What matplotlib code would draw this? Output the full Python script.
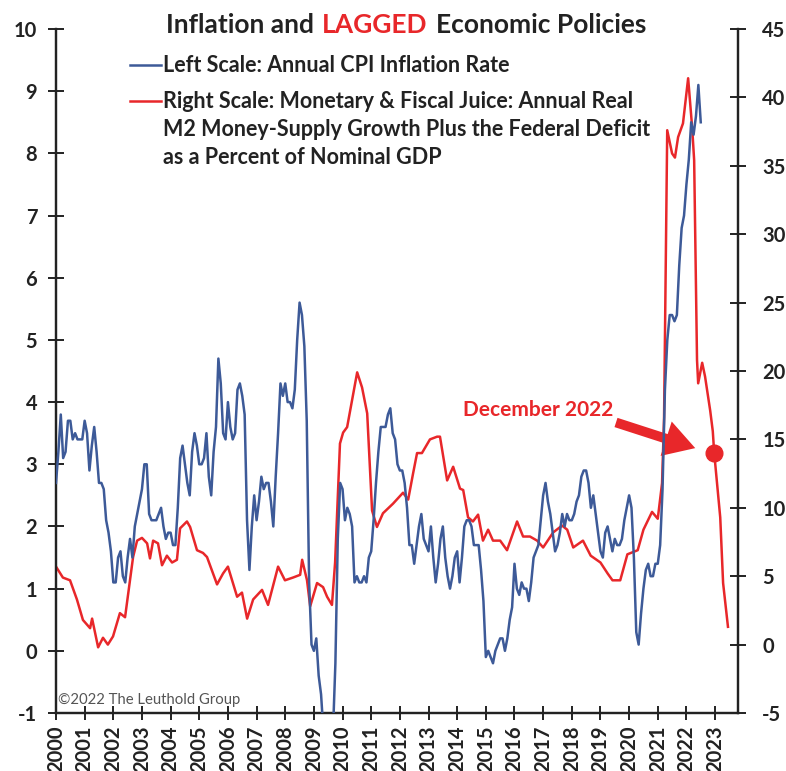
import numpy as np
import matplotlib
matplotlib.use('Agg')
import matplotlib.pyplot as plt
from matplotlib.lines import Line2D
from matplotlib.offsetbox import TextArea, HPacker, AnchoredOffsetbox

plt.rcParams['font.family'] = ['Lato', 'DejaVu Sans']
plt.rcParams['font.weight'] = 'bold'

BLUE = '#3d5a98'
RED = '#e8272a'

# annual CPI inflation, monthly from Jan 2000 to Jul 2022 (left scale)
cpi = [
    2.7, 3.2, 3.8, 3.1, 3.2, 3.7, 3.7, 3.4, 3.5, 3.4, 3.4, 3.4,
    3.7, 3.5, 2.9, 3.3, 3.6, 3.2, 2.7, 2.7, 2.6, 2.1, 1.9, 1.6,
    1.1, 1.1, 1.5, 1.6, 1.2, 1.1, 1.5, 1.8, 1.5, 2.0, 2.2, 2.4,
    2.6, 3.0, 3.0, 2.2, 2.1, 2.1, 2.1, 2.2, 2.3, 2.0, 1.8, 1.9,
    1.9, 1.7, 1.7, 2.3, 3.1, 3.3, 3.0, 2.7, 2.5, 3.2, 3.5, 3.3,
    3.0, 3.0, 3.1, 3.5, 2.8, 2.5, 3.2, 3.6, 4.7, 4.3, 3.5, 3.4,
    4.0, 3.6, 3.4, 3.5, 4.2, 4.3, 4.1, 3.8, 2.1, 1.3, 2.0, 2.5,
    2.1, 2.4, 2.8, 2.6, 2.7, 2.7, 2.4, 2.0, 2.8, 3.5, 4.3, 4.1,
    4.3, 4.0, 4.0, 3.9, 4.2, 5.0, 5.6, 5.4, 4.9, 3.7, 1.1, 0.1,
    0.0, 0.2, -0.4, -0.7, -1.3, -1.4, -2.1, -1.5, -1.3, -0.2, 1.8, 2.7,
    2.6, 2.1, 2.3, 2.2, 2.0, 1.1, 1.2, 1.1, 1.1, 1.2, 1.1, 1.5,
    1.6, 2.1, 2.7, 3.2, 3.6, 3.6, 3.6, 3.8, 3.9, 3.5, 3.4, 3.0,
    2.9, 2.9, 2.7, 2.3, 1.7, 1.7, 1.4, 1.7, 2.0, 2.2, 1.8, 1.7,
    1.6, 2.0, 1.5, 1.1, 1.4, 1.8, 2.0, 1.5, 1.2, 1.0, 1.2, 1.5,
    1.6, 1.1, 1.5, 2.0, 2.1, 2.1, 2.0, 1.7, 1.7, 1.7, 1.3, 0.8,
    -0.1, 0.0, -0.1, -0.2, 0.0, 0.1, 0.2, 0.2, 0.0, 0.2, 0.5, 0.7,
    1.4, 1.0, 0.9, 1.1, 1.0, 1.0, 0.8, 1.1, 1.5, 1.6, 1.7, 2.1,
    2.5, 2.7, 2.4, 2.2, 1.9, 1.6, 1.7, 1.9, 2.2, 2.0, 2.2, 2.1,
    2.1, 2.2, 2.4, 2.5, 2.8, 2.9, 2.9, 2.7, 2.3, 2.5, 2.2, 1.9,
    1.6, 1.5, 1.9, 2.0, 1.8, 1.6, 1.8, 1.7, 1.7, 1.8, 2.1, 2.3,
    2.5, 2.3, 1.5, 0.3, 0.1, 0.6, 1.0, 1.3, 1.4, 1.2, 1.2, 1.4,
    1.4, 1.7, 2.6, 4.2, 5.0, 5.4, 5.4, 5.3, 5.4, 6.2, 6.8, 7.0,
    7.5, 7.9, 8.5, 8.3, 8.6, 9.1, 8.5,
]
cpi_dates = 2000 + np.arange(len(cpi)) / 12

# lagged monetary & fiscal juice (right scale)
juice_dates = [
    2000.00, 2000.24, 2000.49, 2000.73, 2000.94, 2001.19, 2001.26, 2001.47, 2001.64, 2001.81,
    2001.99, 2002.23, 2002.41, 2002.69, 2002.83, 2003.00, 2003.18, 2003.28, 2003.39, 2003.56,
    2003.70, 2003.87, 2004.05, 2004.22, 2004.33, 2004.57, 2004.68, 2004.92, 2005.13, 2005.27,
    2005.62, 2005.83, 2006.00, 2006.32, 2006.49, 2006.67, 2006.88, 2007.19, 2007.40, 2007.75,
    2007.99, 2008.27, 2008.52, 2008.59, 2008.76, 2008.87, 2009.11, 2009.32, 2009.46, 2009.63,
    2009.74, 2009.91, 2010.02, 2010.16, 2010.51, 2010.68, 2010.86, 2011.03, 2011.20, 2011.41,
    2011.76, 2012.11, 2012.29, 2012.46, 2012.60, 2012.77, 2013.05, 2013.30, 2013.40, 2013.65,
    2013.86, 2014.10, 2014.21, 2014.38, 2014.55, 2014.73, 2014.90, 2015.08, 2015.25, 2015.50,
    2015.74, 2016.09, 2016.30, 2016.54, 2016.79, 2017.00, 2017.35, 2017.66, 2017.84, 2018.05,
    2018.39, 2018.66, 2019.00, 2019.25, 2019.42, 2019.69, 2019.94, 2020.30, 2020.50, 2020.80,
    2021.00, 2021.15, 2021.22, 2021.33, 2021.50, 2021.60, 2021.71, 2021.88, 2022.06, 2022.20,
    2022.27, 2022.37, 2022.41, 2022.55, 2022.65, 2022.83, 2022.92, 2022.97, 2023.18, 2023.28,
    2023.45,
]
juice = [
    5.7, 4.9, 4.7, 3.3, 1.8, 1.2, 1.9, -0.2, 0.5, 0.0,
    0.6, 2.3, 2.0, 6.4, 7.6, 7.8, 7.4, 6.3, 7.6, 7.4,
    5.8, 6.5, 6.0, 6.2, 8.5, 9.0, 8.6, 6.9, 6.7, 6.4,
    4.4, 5.2, 5.7, 3.5, 3.8, 1.9, 3.3, 4.0, 2.9, 5.7,
    4.7, 4.9, 5.1, 6.2, 4.7, 2.8, 4.5, 4.2, 3.5, 2.9,
    6.0, 14.7, 15.5, 15.9, 19.9, 18.8, 16.9, 9.8, 8.6, 9.6,
    10.3, 11.1, 10.6, 12.5, 14.0, 14.0, 15.0, 15.2, 15.2, 12.0,
    13.0, 11.4, 11.3, 9.3, 9.0, 9.5, 7.6, 8.4, 7.6, 7.6,
    6.9, 9.0, 7.9, 7.9, 7.6, 7.1, 8.2, 8.7, 8.4, 7.1,
    7.6, 6.5, 6.0, 5.2, 4.7, 4.7, 6.6, 6.9, 8.4, 9.7,
    9.2, 11.8, 16.6, 37.6, 35.9, 35.6, 37.1, 38.1, 41.4, 37.8,
    35.4, 20.8, 19.1, 20.6, 19.6, 17.1, 15.6, 14.0, 9.3, 4.5,
    1.3,
]

dec2022_date = 2022.97
dec2022_value = 14.0

years = list(range(2000, 2024))
left_ticks = list(range(-1, 11))
right_ticks = list(range(-5, 50, 5))

fig = plt.figure(figsize=(7.86, 7.71), dpi=100)
ax = fig.add_axes([56 / 786, 1 - 713 / 771, (738 - 56) / 786, (713 - 29) / 771])
ax2 = ax.twinx()

ax.plot(cpi_dates, cpi, color=BLUE, lw=1.8, zorder=3)
ax2.plot(juice_dates, juice, color=RED, lw=1.8)
ax2.plot([dec2022_date], [dec2022_value], 'o', color=RED, ms=12)

ax.set_xlim(2000, 2023.8)
ax.set_ylim(-1, 10)
ax2.set_ylim(-5, 45)
ax.set_zorder(ax2.get_zorder() + 1)
ax.patch.set_visible(False)

ax.set_xticks(years)
ax.set_xticklabels([str(y) for y in years], rotation=90, fontsize=14.5, fontweight='bold')
ax.set_yticks(left_ticks)
ax.set_yticklabels([str(v) for v in left_ticks], fontsize=14.5, fontweight='bold')
ax2.set_yticks(right_ticks)
ax2.set_yticklabels([str(v) for v in right_ticks], fontsize=14.5, fontweight='bold')

for a in (ax, ax2):
    a.spines['top'].set_visible(False)
    for s in ('left', 'right', 'bottom'):
        a.spines[s].set_linewidth(1.6)
        a.spines[s].set_color('#222222')
ax.tick_params(axis='y', direction='inout', length=11, width=1.4, pad=8, colors='#222222')
ax.tick_params(axis='x', direction='inout', length=10, width=1.4, pad=4, colors='#222222')
ax2.tick_params(axis='y', direction='inout', length=11, width=1.4, pad=12, colors='#222222')

# title with red LAGGED
parts = [TextArea(s, textprops=dict(color=c, fontsize=19, fontweight='bold'))
         for s, c in [('Inflation and', '#222222'), ('LAGGED', RED), ('Economic Policies', '#222222')]]
title = HPacker(children=parts, align='baseline', pad=0, sep=6)
fig.add_artist(AnchoredOffsetbox(loc='center', child=title, frameon=False,
                                 bbox_to_anchor=(406 / 786, 1 - 25 / 771),
                                 bbox_transform=fig.transFigure, borderpad=0))

# legend drawn by hand
def fx(px):
    return px / 786


def fy(py):
    return 1 - py / 771


fig.add_artist(Line2D([fx(130), fx(161)], [fy(65), fy(65)], color=BLUE, lw=1.8))
fig.text(fx(163), fy(65), 'Left Scale: Annual CPI Inflation Rate', fontsize=15.5,
         fontweight='bold', color='#222222', va='center')
fig.add_artist(Line2D([fx(130), fx(161)], [fy(101), fy(101)], color=RED, lw=1.8))
legend_red = ['Right Scale: Monetary & Fiscal Juice: Annual Real',
              'M2 Money-Supply Growth Plus the Federal Deficit',
              'as a Percent of Nominal GDP']
for i, line in enumerate(legend_red):
    fig.text(fx(163), fy(101 + 28.5 * i), line, fontsize=15.5, fontweight='bold',
             color='#222222', va='center')

# December 2022 callout
ax2.text(2016.82, 17.15, 'December 2022', color=RED, fontsize=15, fontweight='bold',
         ha='center', va='center')
ax2.annotate('', xy=(2022.4, 14.3), xytext=(2019.45, 16.3),
             arrowprops=dict(arrowstyle='simple,head_width=1.3,head_length=1.1,tail_width=0.35',
                             color=RED, mutation_scale=20, lw=0))

fig.text(fx(58), fy(700), '\u00a92022 The Leuthold Group', fontsize=10.7,
         fontweight='normal', color='#555555', va='center')

plt.savefig('out.png', dpi=100)
